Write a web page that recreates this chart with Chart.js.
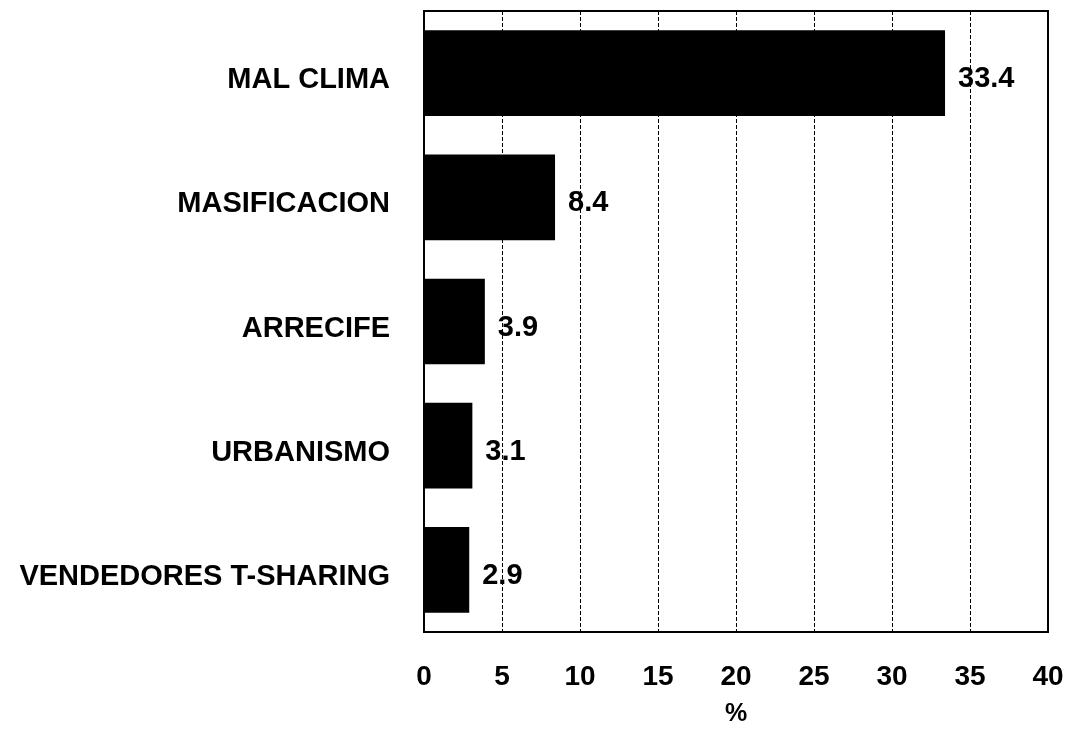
<!DOCTYPE html>
<html>
<head>
<meta charset="utf-8">
<script src="https://cdn.jsdelivr.net/npm/chart.js@4/dist/chart.umd.min.js"></script>
<style>
  html, body { margin: 0; padding: 0; background: #fff; }
  #wrap { width: 1072px; height: 729px; }
</style>
</head>
<body>
<div id="wrap"><canvas id="chart" width="1072" height="729"></canvas></div>
<script>
// categorias y porcentajes
const categories = ['MAL CLIMA', 'MASIFICACION', 'ARRECIFE', 'URBANISMO', 'VENDEDORES T-SHARING'];
const values = [33.4, 8.4, 3.9, 3.1, 2.9];
const xTicks = [0, 5, 10, 15, 20, 25, 30, 35, 40];
const xTitle = '%';

const FONT = "'Liberation Sans', Arial, Helvetica, sans-serif";

// etiquetas de valor al final de cada barra
const valueLabels = {
    id: 'valueLabels',
    afterDatasetsDraw(chart) {
        const ctx = chart.ctx;
        const meta = chart.getDatasetMeta(0);
        ctx.save();
        ctx.fillStyle = '#000';
        ctx.font = 'bold 29px ' + FONT;
        ctx.textAlign = 'left';
        ctx.textBaseline = 'middle';
        meta.data.forEach((bar, i) => {
            ctx.fillText(values[i].toFixed(1), bar.x + 13, bar.y + 6);
        });
        ctx.restore();
    }
};

// marco completo del area de trazado
const frame = {
    id: 'frame',
    afterDraw(chart) {
        const a = chart.chartArea;
        const ctx = chart.ctx;
        ctx.save();
        ctx.strokeStyle = '#000';
        ctx.lineWidth = 2;
        ctx.strokeRect(a.left, a.top, a.right - a.left, a.bottom - a.top);
        ctx.restore();
    }
};

new Chart(document.getElementById('chart'), {
    type: 'bar',
    data: {
        labels: categories,
        datasets: [{
            data: values,
            backgroundColor: '#000',
            borderWidth: 0,
            categoryPercentage: 0.69,
            barPercentage: 1.0
        }]
    },
    options: {
        indexAxis: 'y',
        responsive: false,
        animation: false,
        layout: { padding: { top: 11, right: 24, bottom: 0, left: 0 } },
        plugins: {
            legend: { display: false },
            tooltip: { enabled: false }
        },
        scales: {
            x: {
                min: 0,
                max: 40,
                afterBuildTicks(scale) {
                    scale.ticks = xTicks.map(v => ({ value: v }));
                },
                afterFit(scale) {
                    scale.height = 97;
                    scale.paddingLeft = 0;
                    scale.paddingRight = 0;
                },
                grid: {
                    color: '#000',
                    lineWidth: 1,
                    drawTicks: false
                },
                border: { display: false, dash: [4, 2] },
                ticks: {
                    color: '#000',
                    padding: 28,
                    font: { family: FONT, size: 28, weight: 'bold' }
                },
                title: {
                    display: true,
                    text: xTitle,
                    color: '#000',
                    padding: { top: 2, bottom: 0 },
                    font: { family: FONT, size: 25, weight: 'bold' }
                }
            },
            y: {
                afterFit(scale) {
                    scale.width = 424;
                    scale.paddingTop = 0;
                    scale.paddingBottom = 0;
                },
                grid: { display: false, drawTicks: false },
                border: { display: false },
                ticks: {
                    color: '#000',
                    padding: 34,
                    labelOffset: 7,
                    font: { family: FONT, size: 29, weight: 'bold' }
                }
            }
        }
    },
    plugins: [valueLabels, frame]
});
</script>
</body>
</html>
